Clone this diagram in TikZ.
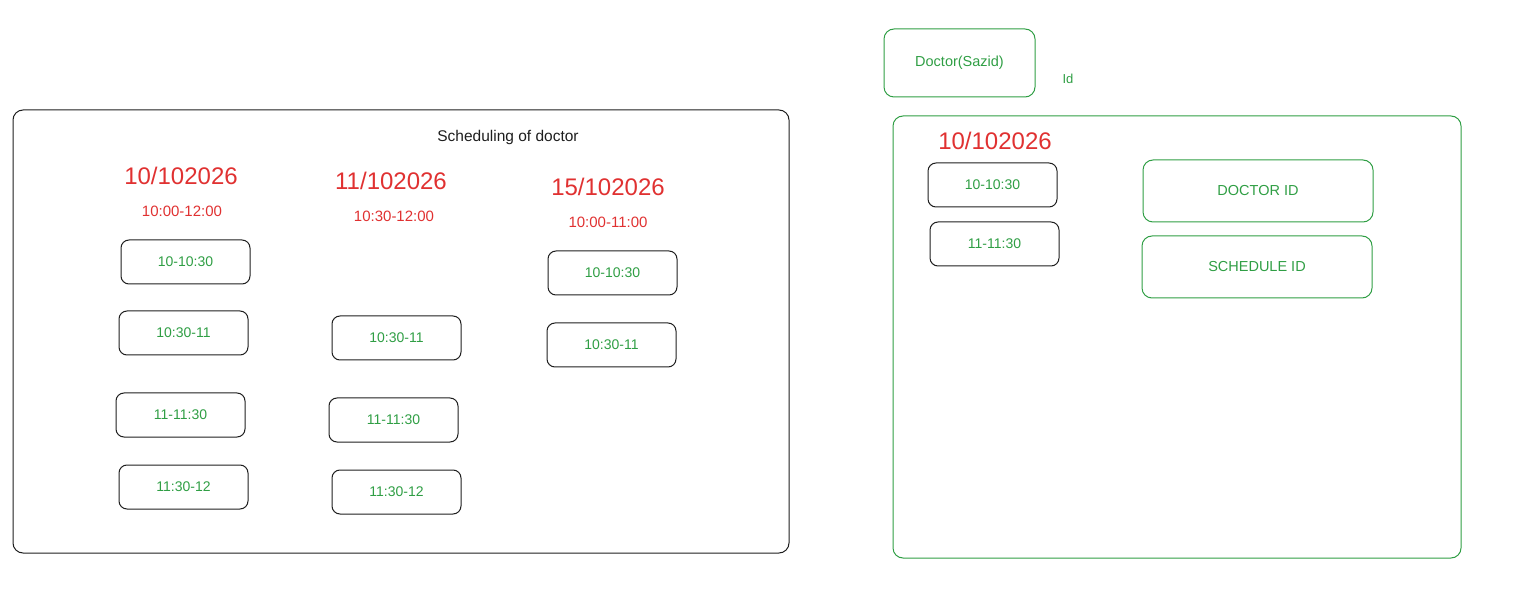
\documentclass[tikz,border=0pt]{standalone}
\usepackage{fontspec}
\setmainfont{Liberation Sans}
\definecolor{exred}{HTML}{E03131}
\definecolor{exgreen}{HTML}{2F9E44}
\definecolor{exblack}{HTML}{1E1E1E}
\begin{document}
\begin{tikzpicture}[x=1pt,y=-1pt,
  slot/.style={draw=exblack,line width=1pt,rounded corners=8pt,minimum width=129pt,minimum height=44pt,inner sep=0pt,text=exgreen,font=\fontsize{14}{16}\selectfont},
  gbox/.style={draw=exgreen,line width=1pt,rounded corners=10pt,inner sep=0pt,text=exgreen,font=\fontsize{14.5}{16}\selectfont},
  datelbl/.style={text=exred,font=\fontsize{24}{28}\selectfont,inner sep=0pt},
  timelbl/.style={text=exred,font=\fontsize{15}{17}\selectfont,inner sep=0pt},
  frame/.style={line width=1pt,rounded corners=10pt}]
\useasboundingbox (0,0) rectangle (1518,609);
% left frame
\draw[frame,draw=exblack] (13,110) rectangle (789,553);
\node[inner sep=0pt,text=exblack,font=\fontsize{15.5}{18}\selectfont] (title) at (508,137) {Scheduling of doctor};
\node[datelbl] (d1) at (181,176) {10/102026};
\node[datelbl] (d2) at (391,181) {11/102026};
\node[datelbl] (d3) at (608,187) {15/102026};
\node[timelbl] (t1) at (182,211) {10:00-12:00};
\node[timelbl] (t2) at (394,216) {10:30-12:00};
\node[timelbl] (t3) at (608,222) {10:00-11:00};
% column 1
\node[slot] (a1) at (185.5,262) {10-10:30};
\node[slot] (a2) at (183.5,333) {10:30-11};
\node[slot] (a3) at (180.5,415) {11-11:30};
\node[slot] (a4) at (183.5,487) {11:30-12};
% column 2
\node[slot] (b2) at (396.5,338) {10:30-11};
\node[slot] (b3) at (393.5,420) {11-11:30};
\node[slot] (b4) at (396.5,492) {11:30-12};
% column 3
\node[slot] (c1) at (612.5,273) {10-10:30};
\node[slot] (c2) at (611.5,345) {10:30-11};
% right side
\node[gbox,minimum width=151pt,minimum height=68pt] (doc) at (959.5,63) {Doctor(Sazid)};
\node[inner sep=0pt,text=exgreen,font=\fontsize{13}{15}\selectfont] (id) at (1068,79) {Id};
\draw[frame,draw=exgreen] (893,116) rectangle (1461,558);
\node[datelbl] (rd) at (995,141) {10/102026};
\node[slot] (r1) at (992.5,185) {10-10:30};
\node[slot] (r2) at (994.5,244) {11-11:30};
\node[gbox,minimum width=230pt,minimum height=62pt] (did) at (1258,191) {DOCTOR ID};
\node[gbox,minimum width=230pt,minimum height=62pt] (sid) at (1257,267) {SCHEDULE ID};
\end{tikzpicture}
\end{document}
